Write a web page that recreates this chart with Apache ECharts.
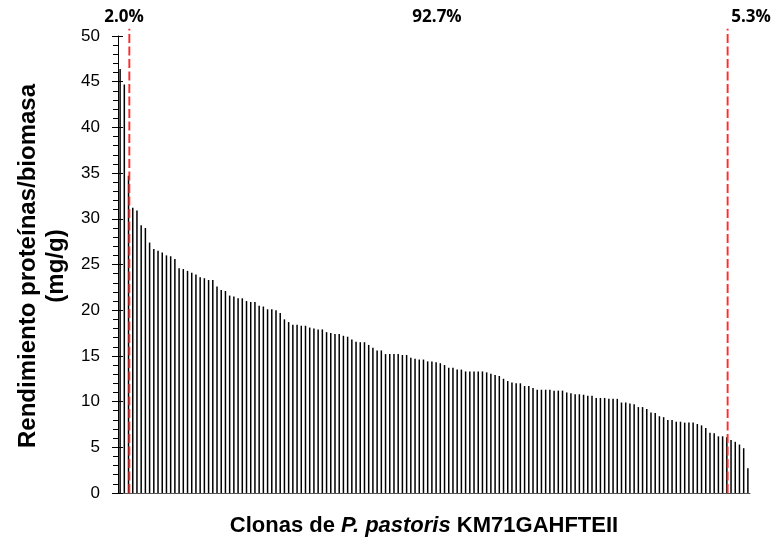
<!DOCTYPE html>
<html>
<head>
<meta charset="utf-8">
<script src="https://cdn.jsdelivr.net/npm/echarts@6/dist/echarts.min.js"></script>
<style>
html,body{margin:0;padding:0;background:#fff;}
#chart{width:777px;height:545px;}
</style>
</head>
<body>
<div id="chart"></div>
<script>
// Protein yield per biomass (mg/g) of each clone, sorted descending
const values = [
  46.4, 44.7, 34.7, 31.2, 30.9, 29.3, 29.0, 27.4, 26.7, 26.5, 26.3, 26.0, 25.9, 25.6, 24.6, 24.5, 24.3, 24.1,
  23.9, 23.6, 23.5, 23.3, 23.3, 22.6, 22.2, 22.1, 21.6, 21.5, 21.3, 21.3, 21.0, 20.9, 20.9, 20.5, 20.4, 20.1, 20.1,
  20.0, 19.7, 19.0, 18.7, 18.4, 18.4, 18.3, 18.3, 18.1, 18.0, 17.9, 17.9, 17.6, 17.5, 17.4, 17.4, 17.2, 17.1, 16.8,
  16.55, 16.5, 16.5, 16.2, 15.9, 15.6, 15.6, 15.2, 15.2, 15.2, 15.2, 15.1, 15.1, 14.8, 14.7, 14.6, 14.6, 14.4, 14.4,
  14.3, 14.2, 14.0, 13.7, 13.7, 13.5, 13.5, 13.3, 13.3, 13.3, 13.3, 13.3, 13.2, 13.05, 12.9, 12.8, 12.5, 12.25, 12.1,
  12.0, 12.0, 11.7, 11.7, 11.5, 11.3, 11.3, 11.3, 11.3, 11.2, 11.2, 11.2, 11.0, 10.9, 10.8, 10.8, 10.75, 10.65, 10.65,
  10.4, 10.4, 10.4, 10.3, 10.3, 10.3, 9.9, 9.9, 9.8, 9.7, 9.4, 9.4, 9.2, 8.8, 8.75, 8.4, 8.3, 8.0, 8.0,
  7.8, 7.8, 7.7, 7.7, 7.7, 7.55, 7.4, 7.1, 6.6, 6.55, 6.2, 6.2, 6.1, 5.8, 5.6, 5.3, 4.9, 2.7
];
const categories = values.map((_, i) => 'Clon ' + (i + 1));
const cutIndices = [2, 144];          // clones where the red dashed separators sit
const sectionLabels = ['2.0%', '92.7%', '5.3%'];
const yTicks = [0, 5, 10, 15, 20, 25, 30, 35, 40, 45, 50];

const chart = echarts.init(document.getElementById('chart'), null, {renderer: 'canvas'});
const yMin = yTicks[0], yMax = yTicks[yTicks.length - 1], yStep = yTicks[1] - yTicks[0];
const boldFont = '"Liberation Sans", Arial, sans-serif';
const pctFont = 'bold 17px "Open Sans", Lato, sans-serif';

chart.setOption({
  animation: false,
  backgroundColor: '#fff',
  grid: {left: 118, right: 27, top: 36, bottom: 52, containLabel: false},
  xAxis: {
    type: 'category',
    data: categories,
    boundaryGap: true,
    axisLine: {show: true, lineStyle: {color: '#555', width: 1}},
    axisTick: {show: false},
    axisLabel: {show: false},
    splitLine: {show: false}
  },
  yAxis: [{
    type: 'value',
    min: yMin, max: yMax, interval: yStep,
    axisLine: {show: true, lineStyle: {color: '#000', width: 1}},
    axisTick: {show: true, length: 6, lineStyle: {color: '#000'}},
    minorTick: {show: true, splitNumber: 5, length: 5, lineStyle: {color: '#000'}},
    axisLabel: {color: '#000', fontFamily: 'Liberation Sans, Arial', fontSize: 17, margin: 18},
    splitLine: {show: false}
  }, {
    type: 'value',
    position: 'left',
    min: yMin, max: yMax, interval: yStep,
    axisLine: {show: false},
    axisTick: {show: true, inside: true, length: 5, lineStyle: {color: '#000'}},
    axisLabel: {show: false},
    splitLine: {show: false}
  }],
  series: [{
    type: 'bar',
    data: values,
    barWidth: 1.5,
    itemStyle: {color: '#000'}
  }]
});

// Red dashed separators, positioned through the chart's own scales
const lineTop = 50.8;
const sepLines = cutIndices.map(ci => {
  const p0 = chart.convertToPixel({seriesIndex: 0}, [ci, 0]);
  const p1 = chart.convertToPixel({seriesIndex: 0}, [ci, lineTop]);
  return {
    type: 'line', silent: true, z: 100,
    shape: {x1: p0[0] + 0.8, y1: p0[1], x2: p1[0] + 0.8, y2: p1[1]},
    style: {stroke: '#ff2a2a', lineWidth: 1.9, lineDash: [9, 3.5]}
  };
});

chart.setOption({
  graphic: sepLines.concat([
    {type: 'text', x: 124, y: 17, style: {text: sectionLabels[0], font: pctFont, fill: '#000', align: 'center', verticalAlign: 'middle'}},
    {type: 'text', x: 437, y: 17, style: {text: sectionLabels[1], font: pctFont, fill: '#000', align: 'center', verticalAlign: 'middle'}},
    {type: 'text', x: 751, y: 17, style: {text: sectionLabels[2], font: pctFont, fill: '#000', align: 'center', verticalAlign: 'middle'}},
    {type: 'text', x: 28, y: 266, rotation: Math.PI / 2,
      style: {text: 'Rendimiento proteínas/biomasa', font: 'bold 24px ' + boldFont, fill: '#000', align: 'center', verticalAlign: 'middle'}},
    {type: 'text', x: 56, y: 266, rotation: Math.PI / 2,
      style: {text: '(mg/g)', font: 'bold 24px ' + boldFont, fill: '#000', align: 'center', verticalAlign: 'middle'}},
    {type: 'text', x: 424, y: 526,
      style: {
        text: '{b|Clonas de }{i|P. pastoris}{b| KM71GAHFTEII}',
        align: 'center', verticalAlign: 'middle',
        rich: {
          b: {font: 'bold 22px ' + boldFont, fill: '#000'},
          i: {font: 'italic bold 22px ' + boldFont, fill: '#000'}
        }
      }}
  ])
});
</script>
</body>
</html>
